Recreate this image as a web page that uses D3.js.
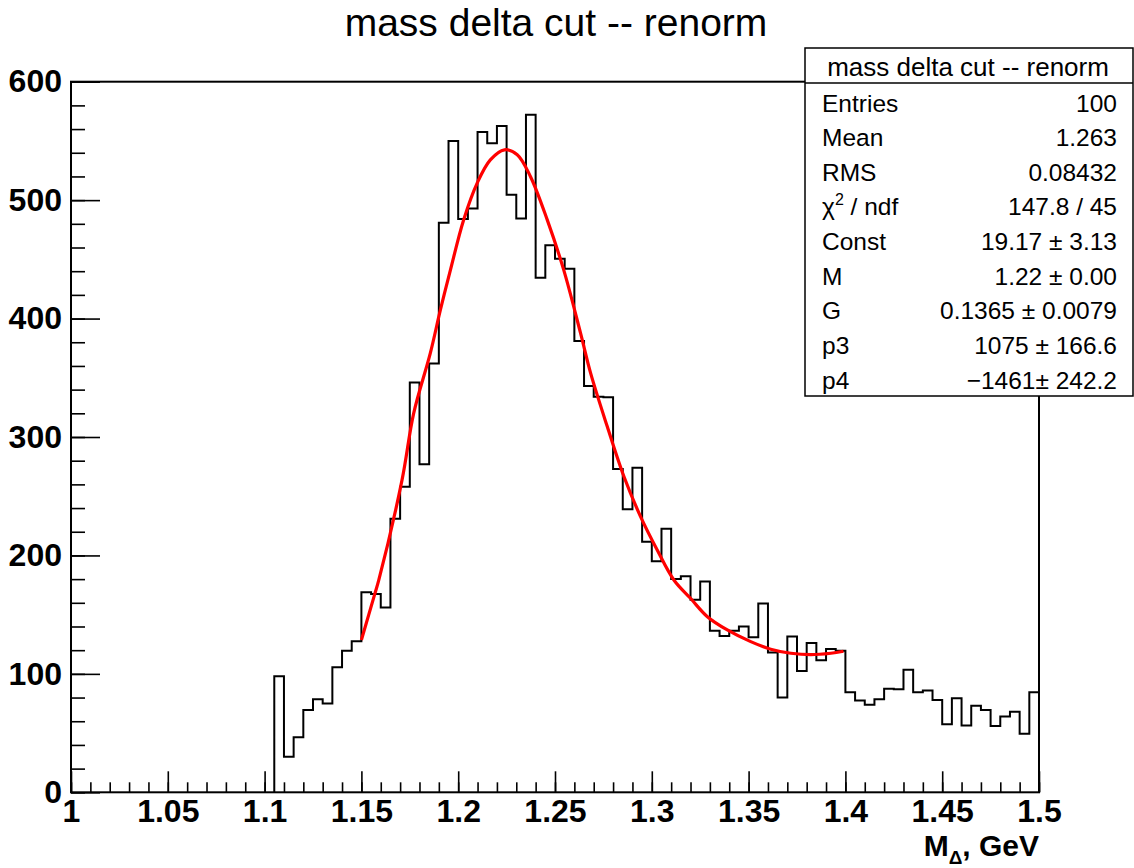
<!DOCTYPE html>
<html>
<head>
<meta charset="utf-8">
<script src="https://cdn.jsdelivr.net/npm/d3@7"></script>
<style>
  body { margin: 0; background: #fff; }
  text { font-family: "Liberation Sans", Arial, sans-serif; }
</style>
</head>
<body>
<svg id="chart" width="1134" height="868"></svg>
<script>
// histogram: 0.005 wide bins, first filled bin starts at 1.105
var binStart = 1.105;
var binWidth = 0.005;
var counts = [
  98, 30, 46.5, 69.5, 78.5, 75, 105.5, 119.5, 127.5,
  169, 167.5, 156, 231, 258, 346, 277, 362, 481, 550,
  484, 493, 557.5, 548, 562.5, 504.5, 484.5, 572, 434.5, 462,
  450.5, 442, 381, 343, 334, 333.5, 273, 239, 274, 211.5,
  195, 222.5, 180, 182.5, 162.5, 178, 136.5, 132, 136.5, 140,
  131, 159.5, 118, 80, 131.5, 102.5, 126, 111.5, 121, 119.5,
  84.5, 77.5, 74, 78.5, 87.5, 87, 103.5, 84.5, 86, 78,
  57.5, 79.5, 56.5, 73, 69.5, 56, 64, 68, 49.5, 84.5
];

// fit curve
var fitX = [1.150, 1.157, 1.159, 1.171, 1.177, 1.1856, 1.1908, 1.196, 1.2028, 1.2098,
            1.2166, 1.2239, 1.2305, 1.2373, 1.246, 1.2545, 1.2632, 1.2684, 1.277, 1.2856,
            1.2942, 1.3028, 1.3114, 1.3201, 1.3287, 1.339, 1.3511, 1.3614, 1.3718, 1.3821,
            1.3925, 1.399];
var fitY = [128.6, 168, 179.3, 263.8, 320, 370.8, 407.3, 441.1, 483.3, 514.4,
            534, 542.5, 538.3, 520, 483.3, 441.1, 387.7, 353.9, 308.8, 266.6,
            232.8, 204.6, 179.3, 163.6, 148.3, 137.1, 127.2, 120.8, 117.4, 116.2,
            117.4, 119.1];

var xTicks = [1, 1.05, 1.1, 1.15, 1.2, 1.25, 1.3, 1.35, 1.4, 1.45, 1.5];
var xTickLabels = ["1", "1.05", "1.1", "1.15", "1.2", "1.25", "1.3", "1.35", "1.4", "1.45", "1.5"];
var yTicks = [0, 100, 200, 300, 400, 500, 600];

var statNames = ["Entries", "Mean", "RMS", "chi2", "Const", "M", "G", "p3", "p4"];
var statValues = ["100", "1.263", "0.08432", "147.8 / 45", "19.17 \u00b1 3.13",
                  "1.22 \u00b1 0.00", "0.1365 \u00b1 0.0079", "1075 \u00b1 166.6",
                  "\u22121461\u00b1 242.2"];

var svg = d3.select("#chart");

var x = d3.scaleLinear().domain([1, 1.5]).range([71, 1039]);
var y = d3.scaleLinear().domain([0, 600]).range([792.3, 81.7]);

// title
svg.append("text")
  .attr("x", 556).attr("y", 36)
  .attr("text-anchor", "middle")
  .style("font-size", "39px")
  .text("mass delta cut -- renorm");

// frame
svg.append("rect")
  .attr("x", x(1)).attr("y", y(600))
  .attr("width", x(1.5) - x(1)).attr("height", y(0) - y(600))
  .attr("fill", "none").attr("stroke", "#000").attr("stroke-width", 2);

// histogram outline
var pts = [[binStart, 0]];
counts.forEach(function(c, i) { pts.push([binStart + i * binWidth, c]); });
pts.push([1.5, counts[counts.length - 1]]);
pts.push([1.5, 0]);

var step = d3.line()
  .x(function(d) { return x(d[0]); })
  .y(function(d) { return y(d[1]); })
  .curve(d3.curveStepAfter);

svg.append("path")
  .attr("d", step(pts))
  .attr("fill", "none").attr("stroke", "#000").attr("stroke-width", 2);

// fit
var fitLine = d3.line()
  .x(function(d, i) { return x(fitX[i]); })
  .y(function(d) { return y(d); })
  .curve(d3.curveCatmullRom);

svg.append("path")
  .attr("d", fitLine(fitY))
  .attr("fill", "none").attr("stroke", "#ff0000").attr("stroke-width", 3.2);

// x axis, ticks point inward
var xMinor = svg.append("g").attr("transform", "translate(0," + y(0) + ")")
  .call(d3.axisBottom(x).tickValues(d3.range(1, 1.5001, 0.01)).tickSize(-10).tickFormat(""));
var xMajor = svg.append("g").attr("transform", "translate(0," + y(0) + ")")
  .call(d3.axisBottom(x).tickValues(xTicks).tickSize(-21).tickPadding(7)
    .tickFormat(function(d, i) { return xTickLabels[i]; }));

var yMinor = svg.append("g").attr("transform", "translate(" + x(1) + ",0)")
  .call(d3.axisLeft(y).tickValues(d3.range(0, 601, 20)).tickSize(-14).tickFormat(""));
var yMajor = svg.append("g").attr("transform", "translate(" + x(1) + ",0)")
  .call(d3.axisLeft(y).tickValues(yTicks).tickSize(-29).tickPadding(9));

[xMinor, xMajor, yMinor, yMajor].forEach(function(g) {
  g.select(".domain").remove();
  g.selectAll("line").attr("stroke", "#000").attr("stroke-width", 1.6);
  g.selectAll("text")
    .style("font-family", "'Liberation Sans', Arial, sans-serif")
    .style("font-size", "32px").style("font-weight", "bold").attr("fill", "#000");
});

// axis title
var xt = svg.append("text")
  .attr("x", x(1.5)).attr("y", 856)
  .attr("text-anchor", "end")
  .style("font-size", "30px").style("font-weight", "bold");
xt.append("tspan").text("M");
xt.append("tspan").attr("dy", 8).style("font-size", "19px").text("\u0394");
xt.append("tspan").attr("dy", -8).text(", GeV");

// stats box
var box = svg.append("g");
box.append("rect")
  .attr("x", 805).attr("y", 48).attr("width", 328).attr("height", 348)
  .attr("fill", "#fff").attr("stroke", "#000").attr("stroke-width", 1.5);
box.append("line")
  .attr("x1", 805).attr("x2", 1133).attr("y1", 83).attr("y2", 83)
  .attr("stroke", "#000").attr("stroke-width", 1.5);
box.append("text")
  .attr("x", 968).attr("y", 76)
  .attr("text-anchor", "middle").style("font-size", "26px")
  .text("mass delta cut -- renorm");

var rowY = d3.scaleLinear().domain([0, statNames.length - 1]).range([103, 380]);

statNames.forEach(function(name, i) {
  var t = box.append("text")
    .attr("x", 822).attr("y", rowY(i) + 8.5)
    .style("font-size", "24.5px");
  if (name === "chi2") {
    t.append("tspan").text("\u03c7");
    t.append("tspan").attr("dy", -10).style("font-size", "16px").text("2");
    t.append("tspan").attr("dy", 10).text(" / ndf");
  } else {
    t.text(name);
  }
  box.append("text")
    .attr("x", 1117).attr("y", rowY(i) + 8.5)
    .attr("text-anchor", "end").style("font-size", "24.5px")
    .text(statValues[i]);
});
</script>
</body>
</html>
